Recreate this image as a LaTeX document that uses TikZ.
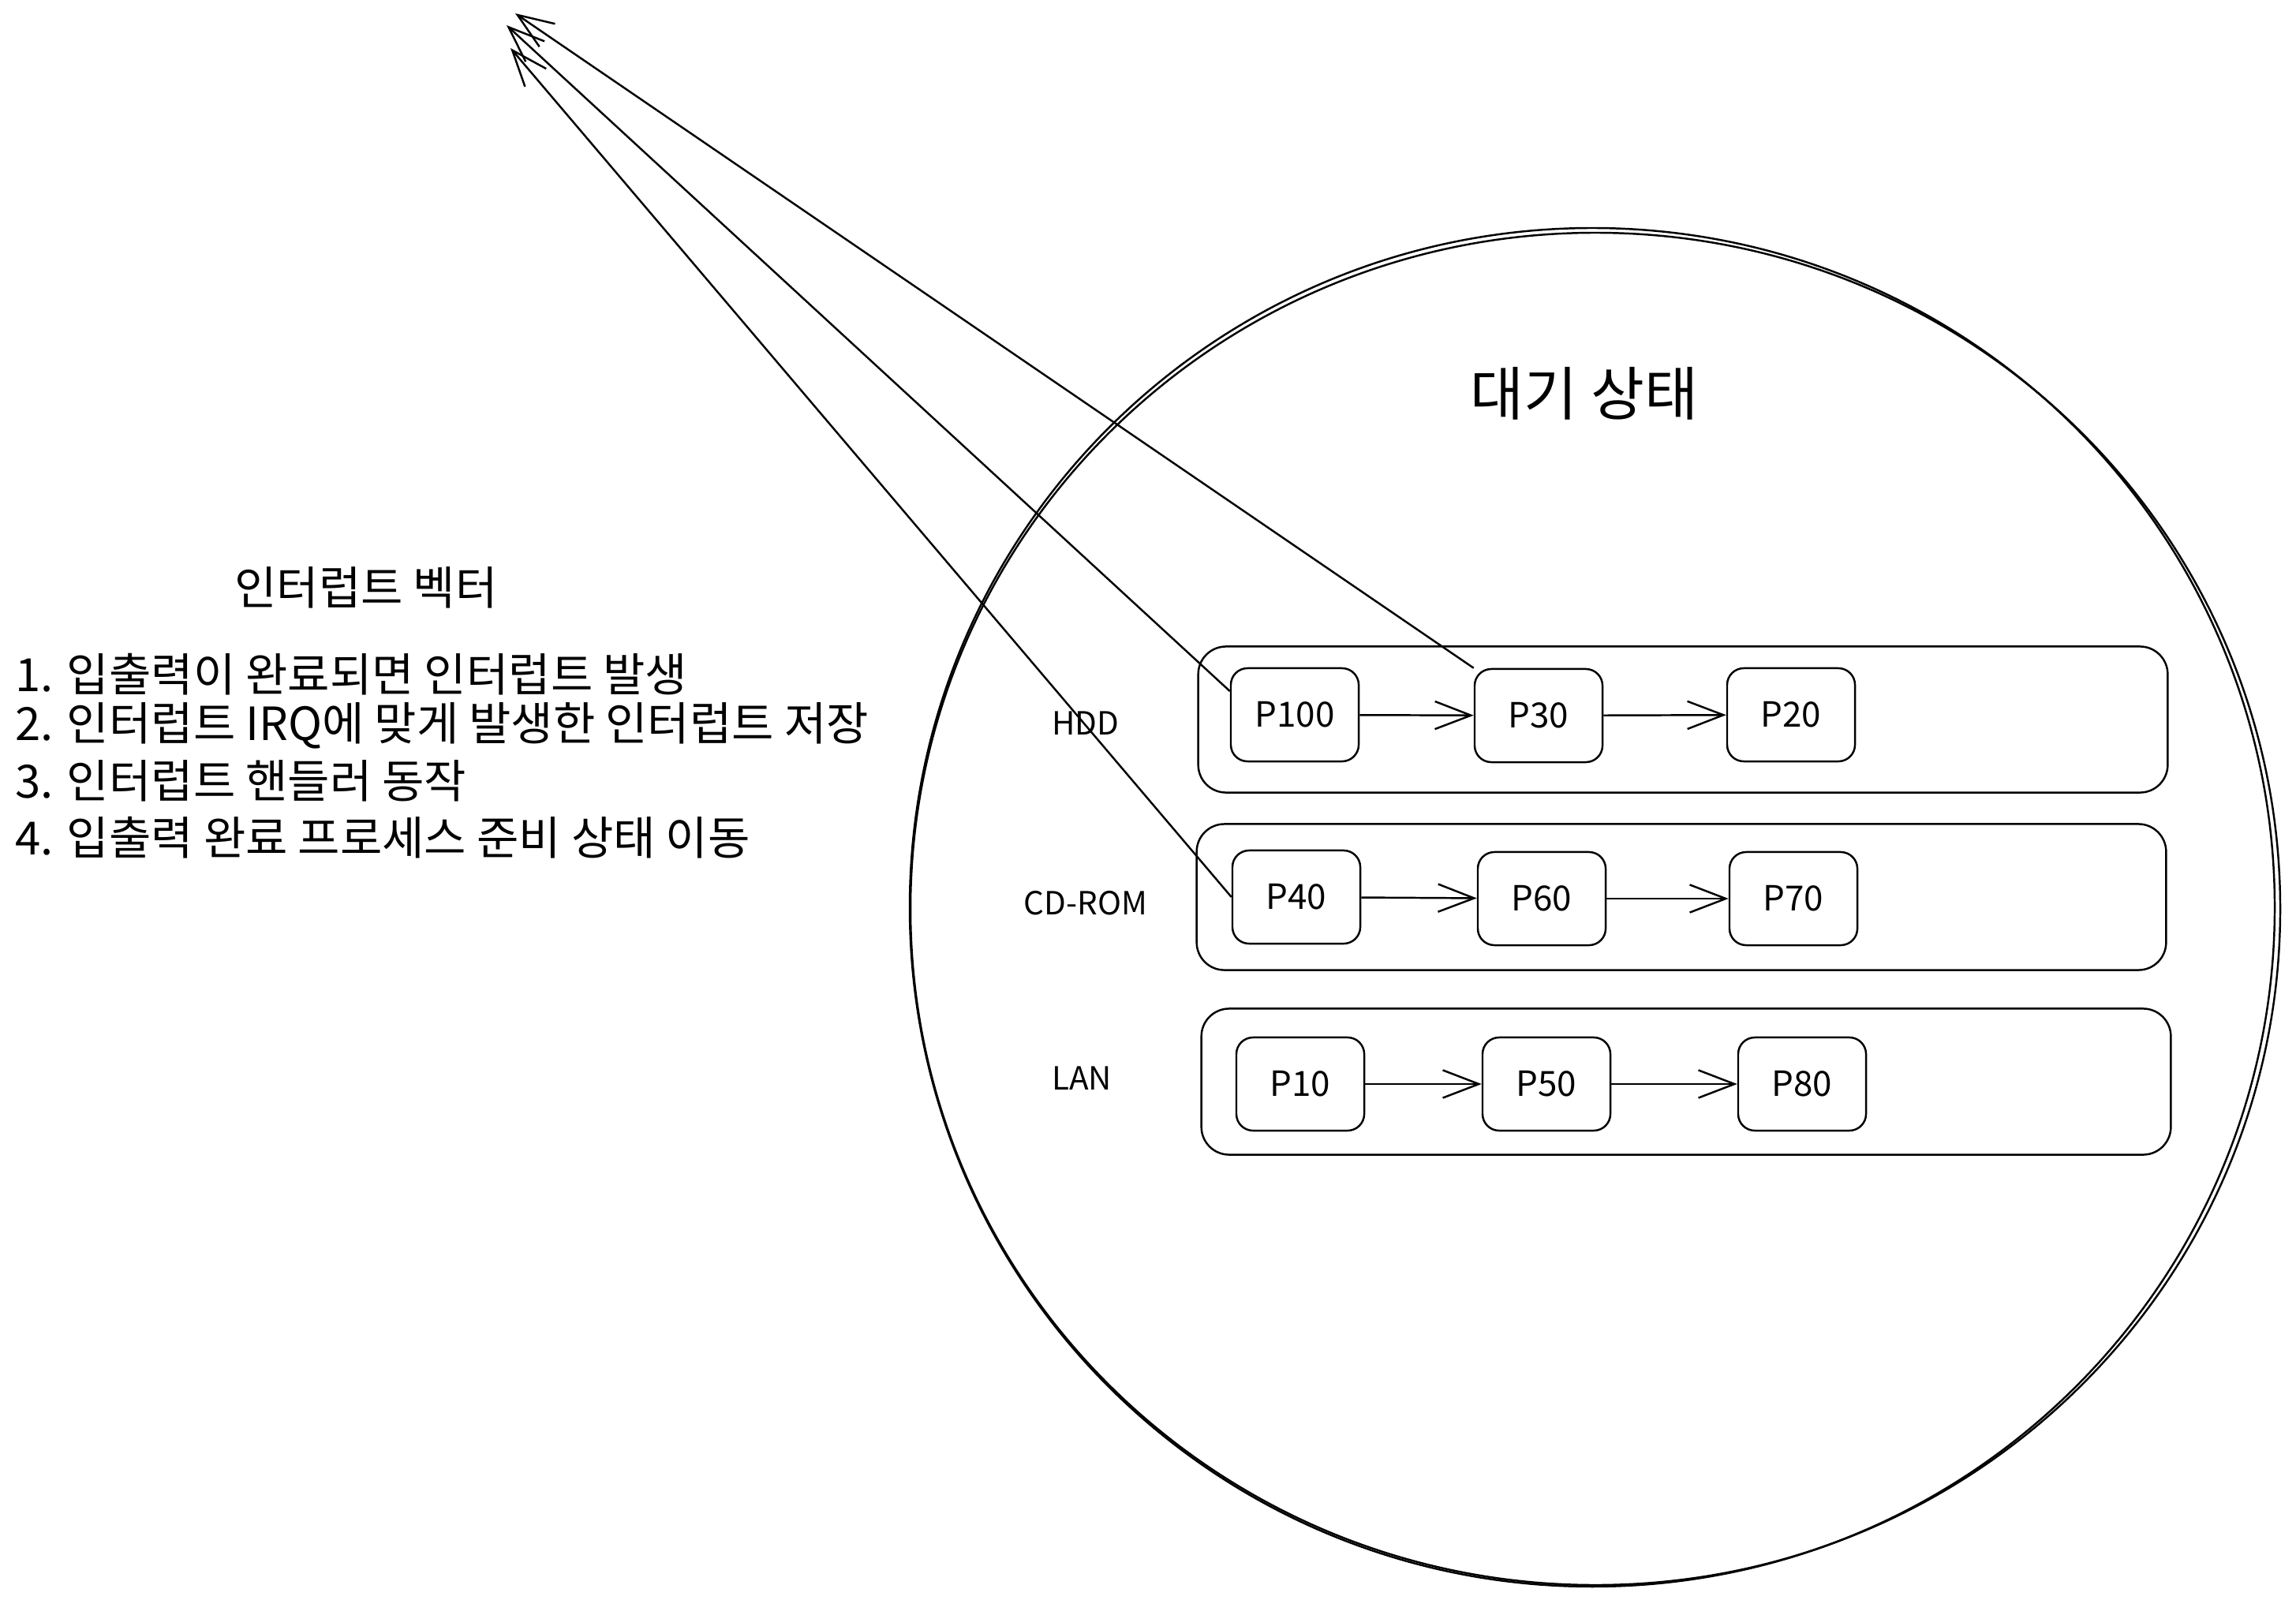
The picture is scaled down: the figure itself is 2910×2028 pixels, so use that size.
\documentclass[tikz,border=0pt]{standalone}
\usepackage{fontspec}
\setmainfont{Noto Sans CJK KR}
\usetikzlibrary{arrows.meta}

\begin{document}
\begin{tikzpicture}[x=0.01cm,y=-0.01cm,>={Straight Barb[length=13pt,width=10pt]},line width=0.7pt,
  proc/.style={draw,rounded corners=6pt,minimum width=1.62cm,minimum height=1.18cm,font=\fontsize{12.5}{14}\selectfont},
  queue/.style={draw,rounded corners=10pt,minimum width=12.28cm,minimum height=1.85cm},
  dev/.style={font=\fontsize{11.5}{13}\selectfont},
  itemtxt/.style={anchor=west,inner sep=0pt,font=\fontsize{16.5}{19}\selectfont}]
\useasboundingbox (0,0) rectangle (2910,2028);
% waiting state
\draw (2022,1152) ellipse [x radius=868, y radius=857];
\draw (2018,1150) ellipse [x radius=865, y radius=861];
\node[font=\fontsize{21}{24}\selectfont] (waitlbl) at (2008,499) {대기 상태};
\node[queue] (hddq) at (2133,912) {}; \node[queue] (cdq) at (2131,1137) {}; \node[queue] (lanq) at (2137,1371) {};
\node[dev] (hdd) at (1376,917) {HDD}; \node[dev] (cdrom) at (1376,1145) {CD-ROM}; \node[dev] (lan) at (1371,1367) {LAN};
\foreach \n/\x/\y in {100/1641/906,30/1950/907,20/2270/906,40/1643/1137,60/1954/1139,70/2273/1139,10/1648/1374,50/1960/1374,80/2284/1374}{\node[proc] (p\n) at (\x,\y) {P\n};}
\foreach \a/\b in {100/30,30/20,40/60,60/70,10/50,50/80}{\draw[->] (p\a) -- (p\b);}
% interrupt vector
\coordinate (tipa) at (653,17); \coordinate (tipb) at (642,32); \coordinate (tipc) at (647,61);
\draw[->] (p30.north west) -- (tipa); \draw[->] (p100.160) -- (tipb); \draw[->] (p40.west) -- (tipc);
\node[font=\fontsize{16.5}{19}\selectfont] (veclbl) at (464,745) {인터럽트 벡터};
\foreach \i/\y/\t in {1/855/{1. 입출력이 완료되면 인터럽트 발생},2/920/{2. 인터럽트 IRQ에 맞게 발생한 인터럽트 저장},3/990/{3. 인터럽트 핸들러 동작},4/1062/{4. 입출력 완료 프로세스 준비 상태 이동}}{\node[itemtxt] (item\i) at (18,\y) {\t};}
\end{tikzpicture}
\end{document}
